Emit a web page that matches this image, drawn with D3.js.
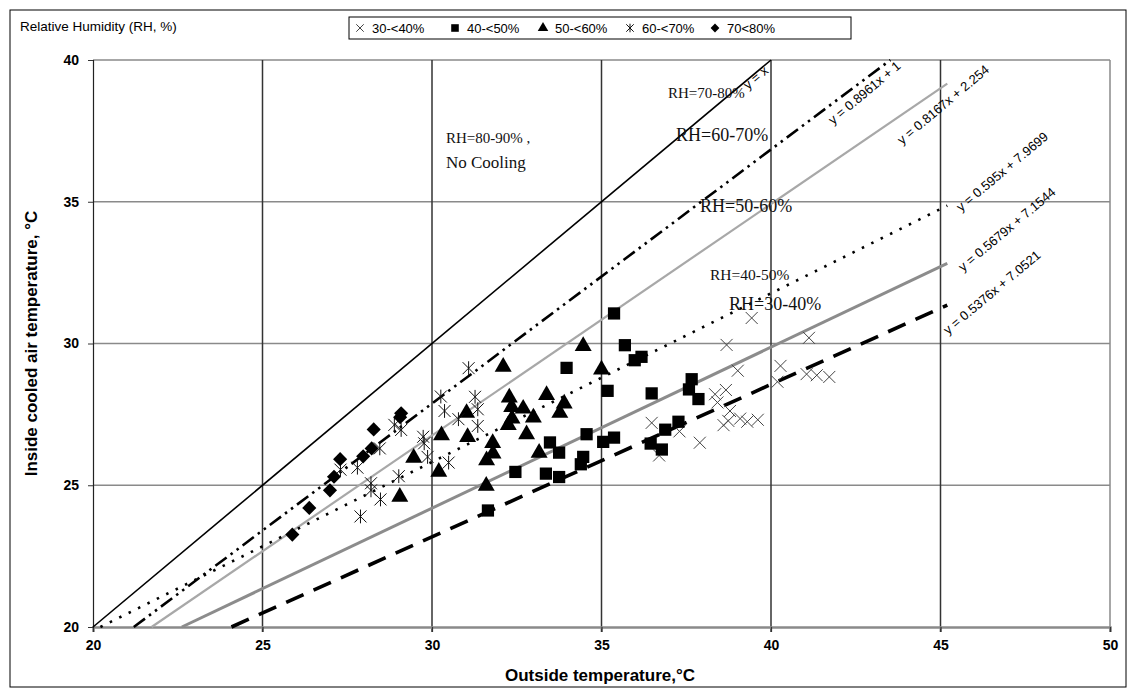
<!DOCTYPE html>
<html><head><meta charset="utf-8">
<script src="https://cdn.jsdelivr.net/npm/d3@7"></script>
<style>body{margin:0;background:#fff}svg{display:block}</style>
</head><body><svg id="c" width="1128" height="689"></svg>
<script>
// ---- data ----
const xTicks = [20,25,30,35,40,45,50];
const yTicks = [20,25,30,35,40];
const seriesNames = ["30-<40%","40-<50%","50-<60%","60-<70%","70<80%"];
const rh30_40 = [[36.48,27.2],[36.7,26.05],[37.3,26.9],[37.9,26.5],[38.35,28.21],[38.67,28.36],[38.42,27.92],[38.79,27.62],[38.74,27.27],[39.09,27.35],[39.3,27.24],[39.61,27.31],[38.6,27.12],[38.69,29.95],[39.02,29.04],[39.43,30.9],[40.19,28.65],[40.28,29.21],[41.05,28.92],[41.35,28.88],[41.72,28.82],[41.12,30.2]];
const rh40_50 = [[31.65,24.11],[32.46,25.47],[33.36,25.41],[33.48,26.51],[33.75,26.15],[33.75,25.29],[33.97,29.14],[34.39,25.74],[34.46,26.0],[34.56,26.8],[35.05,26.53],[35.18,28.33],[35.37,31.06],[35.37,26.68],[35.69,29.94],[35.98,29.41],[36.18,29.53],[36.45,26.47],[36.48,28.24],[36.78,26.26],[36.88,26.96],[37.27,27.24],[37.58,28.38],[37.66,28.74],[37.86,28.04]];
const rh50_60 = [[29.05,24.59],[29.46,25.97],[30.2,25.47],[30.28,26.76],[31.05,26.7],[31.02,27.55],[31.6,24.98],[31.61,25.88],[31.8,26.12],[31.79,26.49],[32.1,29.18],[32.25,27.12],[32.36,27.35],[32.28,28.09],[32.35,27.76],[32.69,27.7],[32.79,26.8],[32.99,27.39],[33.16,26.14],[33.38,28.18],[33.77,27.55],[33.9,27.88],[34.46,29.91],[35.0,29.08]];
const rh60_70 = [[27.3,25.55],[27.8,25.62],[27.89,23.9],[28.2,25.07],[28.2,24.82],[28.46,26.3],[28.48,24.5],[28.89,27.13],[29.02,25.32],[29.09,26.95],[29.74,26.71],[29.77,26.48],[29.87,26.0],[30.26,28.13],[30.37,27.62],[30.49,25.8],[30.78,27.33],[31.08,29.13],[31.27,28.12],[31.35,27.68],[31.35,27.09]];
const rh70_80 = [[25.88,23.26],[26.38,24.2],[26.99,24.82],[27.11,25.3],[27.29,25.92],[27.97,26.02],[28.22,26.3],[28.28,26.97],[29.06,27.4],[29.09,27.54]];
// trend lines: slope, intercept, x end
const lineLabels = ["y = x","y = 0.8961x + 1","y = 0.8167x + 2.254","y = 0.595x + 7.9699","y = 0.5679x + 7.1544","y = 0.5376x + 7.0521"];
const slopes =     [1, 0.8961, 0.8167, 0.595, 0.5679, 0.5376];
const intercepts = [0, 1, 2.254, 7.9699, 7.1544, 7.0521];
const xEnds =      [40, 43.52, 45.2, 45.2, 45.2, 45.2];
const rhLabels = ["RH=80-90% ,","No Cooling","RH=70-80%","RH=60-70%","RH=50-60%","RH=40-50%","RH=30-40%"];

// ---- chart ----
const svg = d3.select("#c");
const x = d3.scaleLinear().domain([20,50]).range([93,1110]);
const y = d3.scaleLinear().domain([20,40]).range([627,60]);
const SANS = "Liberation Sans, Arial, sans-serif";

svg.append("rect").attr("x",10).attr("y",10).attr("width",1116).attr("height",677)
  .attr("fill","none").attr("stroke","#000").attr("stroke-width",1);

// gridlines
svg.append("g").selectAll("line").data(yTicks.filter(d=>d>20)).join("line")
  .attr("x1",x(20)).attr("x2",x(50)).attr("y1",d=>y(d)).attr("y2",d=>y(d))
  .attr("stroke","#8a8a8a").attr("stroke-width",1.5);
svg.append("g").selectAll("line").data(xTicks.filter(d=>d>20)).join("line")
  .attr("x1",d=>x(d)).attr("x2",d=>x(d)).attr("y1",y(40)).attr("y2",y(20)+5)
  .attr("stroke",d=>d===50?"#8a8a8a":"#333").attr("stroke-width",1.5);

// axes
const xAxis = svg.append("g").attr("transform",`translate(0,${y(20)})`)
  .call(d3.axisBottom(x).tickValues(xTicks).tickSize(5).tickPadding(8));
xAxis.select(".domain").attr("stroke","#8a8a8a").attr("stroke-width",2.5);
xAxis.selectAll(".tick line").attr("stroke","#333").attr("stroke-width",1.2);
xAxis.selectAll("text").attr("font-family",SANS).attr("font-weight","bold").attr("font-size",14).attr("fill","#000");
const yAxis = svg.append("g").attr("transform",`translate(${x(20)},0)`)
  .call(d3.axisLeft(y).tickValues(yTicks).tickSize(5).tickPadding(9));
yAxis.select(".domain").attr("stroke","#222").attr("stroke-width",1.2);
yAxis.selectAll(".tick line").attr("stroke","#333");
yAxis.selectAll("text").attr("font-family",SANS).attr("font-weight","bold").attr("font-size",14).attr("fill","#000");

svg.append("text").attr("transform",`translate(37,${(y(20)+y(40))/2}) rotate(-90)`)
  .attr("text-anchor","middle").attr("font-family",SANS)
  .attr("font-weight","bold").attr("font-size",17).text("Inside cooled air temperature, °C");
svg.append("text").attr("x",600).attr("y",681).attr("text-anchor","middle")
  .attr("font-family",SANS).attr("font-weight","bold")
  .attr("font-size",17).text("Outside temperature,°C");

// trend lines
const lineStyles = [
  {stroke:"#000",w:1.6,dash:null},
  {stroke:"#000",w:2.6,dash:"14,5,2.5,5,2.5,5"},
  {stroke:"#a8a8a8",w:2.2,dash:null},
  {stroke:"#000",w:2.6,dash:"2.5,8"},
  {stroke:"#8c8c8c",w:3,dash:null},
  {stroke:"#000",w:3.6,dash:"19,11"}
];
const gl = svg.append("g");
slopes.forEach((m,i)=>{
  const b = intercepts[i];
  const x0 = Math.max(20,(20-b)/m);
  const x1 = xEnds[i];
  const st = lineStyles[i];
  gl.append("line").attr("x1",x(x0)).attr("y1",y(m*x0+b)).attr("x2",x(x1)).attr("y2",y(m*x1+b))
    .attr("stroke",st.stroke).attr("stroke-width",st.w).attr("stroke-dasharray",st.dash);
});

// markers
const sym = {
  cross: s=>`M${-s},${-s}L${s},${s}M${-s},${s}L${s},${-s}`,
  star: s=>`M0,${-s*1.15}L0,${s*1.15}M${-s},${-s}L${s},${s}M${-s},${s}L${s},${-s}`
};
function marker(g, kind, tx, ty, sc){
  const t = `translate(${tx},${ty})`;
  if(kind==="cross") g.append("path").attr("d",sym.cross(6*sc)).attr("transform",t).attr("stroke","#444").attr("stroke-width",1).attr("fill","none");
  else if(kind==="star") g.append("path").attr("d",sym.star(6*sc)).attr("transform",t).attr("stroke","#111").attr("stroke-width",1).attr("fill","none");
  else if(kind==="square") g.append("path").attr("d",d3.symbol(d3.symbolSquare,150*sc*sc)()).attr("transform",t).attr("fill","#000");
  else if(kind==="triangle") g.append("path").attr("d",d3.symbol(d3.symbolTriangle,125*sc*sc)()).attr("transform",t).attr("fill","#000");
  else if(kind==="diamond") g.append("path").attr("d",d3.symbol(d3.symbolSquare,100*sc*sc)()).attr("transform",t+" rotate(45)").attr("fill","#000");
}
const mk = svg.append("g");
function drawSeries(data, kind){
  const g = mk.append("g");
  data.forEach(d=>marker(g, kind, x(d[0]), y(d[1]), 1));
}
drawSeries(rh30_40,"cross");
drawSeries(rh40_50,"square");
drawSeries(rh50_60,"triangle");
drawSeries(rh60_70,"star");
drawSeries(rh70_80,"diamond");

// equation labels
const eqPos = [[748,90],[833,125],[902,145],[961,212],[963,272],[948,335]];
lineLabels.forEach((t,i)=>{
  svg.append("text").attr("transform",`translate(${eqPos[i][0]},${eqPos[i][1]}) rotate(-40)`)
    .attr("font-family",SANS).attr("font-size",13).text(t);
});

// RH region labels
const rhPos = [[446,143,15],[446,168,17],[668,98,15],[676,141,18],[700,212,18],[710,280,15.5],[729,310,18]];
rhLabels.forEach((t,i)=>{
  svg.append("text").attr("x",rhPos[i][0]).attr("y",rhPos[i][1]).attr("font-size",rhPos[i][2])
    .attr("font-family","Liberation Serif, Times New Roman, serif").attr("fill","#111").text(t);
});

// legend title
svg.append("text").attr("x",20).attr("y",31).attr("font-family",SANS).attr("font-size",13.5)
  .text("Relative Humidity (RH, %)");

// legend box
svg.append("rect").attr("x",349).attr("y",17).attr("width",502).attr("height",22)
  .attr("fill","#fff").attr("stroke","#000").attr("stroke-width",1);
const legX = [360,455,543,630,715];
const kinds = ["cross","square","triangle","star","diamond"];
const lg = svg.append("g");
seriesNames.forEach((n,i)=>{
  marker(lg, kinds[i], legX[i], 28, 0.62);
  lg.append("text").attr("x",legX[i]+12).attr("y",32.5).attr("font-family",SANS)
    .attr("font-size",13).text(n);
});
</script></body></html>
